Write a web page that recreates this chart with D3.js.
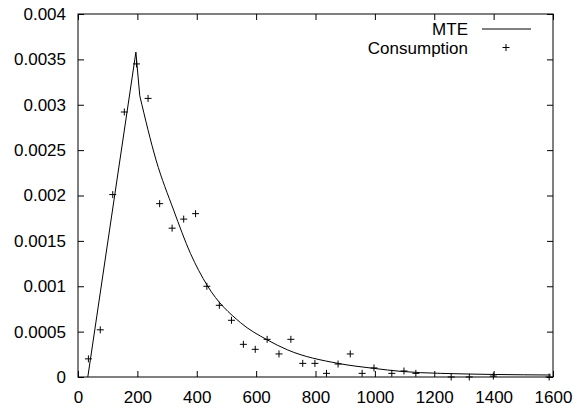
<!DOCTYPE html>
<html>
<head>
<meta charset="utf-8">
<script src="https://cdn.jsdelivr.net/npm/d3@7"></script>
<style>
  html, body { margin: 0; padding: 0; background: #fff; }
  svg { display: block; }
  text { font-family: "Liberation Sans", Arial, Helvetica, sans-serif; }
</style>
</head>
<body>
<svg id="chart" width="574" height="412"></svg>
<script>
// ---- data ----
const consumptionX = [35, 75, 117, 156, 197, 236, 275, 317, 356, 396, 434, 476, 517, 557, 597, 637, 677, 717, 757, 798, 837, 876, 917, 957, 997, 1057, 1098, 1138, 1257, 1318, 1399, 1587];
const consumptionY = [0.0002, 0.00052, 0.00201, 0.00292, 0.00345, 0.00307, 0.00191, 0.00164, 0.00174, 0.0018, 0.001, 0.00079, 0.000625, 0.00036, 0.000305, 0.000415, 0.000254, 0.000415, 0.00015, 0.00015, 0.00004, 0.000143, 0.000254, 0.00004, 0.0001, 0.00004, 0.000066, 0.00004, 0, 0, 0.00001, 0];

const mteX = [33, 195, 208, 263, 322, 379, 435, 547, 637, 705, 876, 997, 1087, 1222, 1593];
const mteY = [0, 0.00358, 0.0031, 0.00239, 0.00184, 0.00136, 0.00101, 0.0006, 0.00041, 0.0003, 0.00015, 0.000095, 0.000062, 0.00004, 0.000022];

const xTicks = [0, 200, 400, 600, 800, 1000, 1200, 1400, 1600];
const xTickLabels = ["0", "200", "400", "600", "800", "1000", "1200", "1400", "1600"];
const yTicks = [0, 0.0005, 0.001, 0.0015, 0.002, 0.0025, 0.003, 0.0035, 0.004];
const yTickLabels = ["0", "0.0005", "0.001", "0.0015", "0.002", "0.0025", "0.003", "0.0035", "0.004"];

const seriesNames = ["MTE", "Consumption"];

// ---- layout ----
const plotL = 78, plotR = 553, plotT = 14, plotB = 377;
const svg = d3.select("#chart");

const x = d3.scaleLinear().domain([0, 1600]).range([plotL, plotR]);
const y = d3.scaleLinear().domain([0, 0.004]).range([plotB, plotT]);

const fontSize = 17;

// axes
const gx = svg.append("g").attr("transform", `translate(0,${plotB})`)
  .call(d3.axisBottom(x).tickValues(xTicks).tickFormat((d, i) => xTickLabels[i])
    .tickSizeInner(-6).tickSizeOuter(0).tickPadding(14));
const gy = svg.append("g").attr("transform", `translate(${plotL},0)`)
  .call(d3.axisLeft(y).tickValues(yTicks).tickFormat((d, i) => yTickLabels[i])
    .tickSizeInner(-6).tickSizeOuter(0).tickPadding(12));
const gt = svg.append("g").attr("transform", `translate(0,${plotT})`)
  .call(d3.axisTop(x).tickValues(xTicks).tickFormat("")
    .tickSizeInner(-6).tickSizeOuter(0));
const gr = svg.append("g").attr("transform", `translate(${plotR},0)`)
  .call(d3.axisRight(y).tickValues(yTicks).tickFormat("")
    .tickSizeInner(-6).tickSizeOuter(0));

[gx, gy, gt, gr].forEach(g => {
  g.select(".domain").remove();
  g.selectAll(".tick line").attr("stroke", "#000").attr("stroke-width", 1);
  g.selectAll("text").attr("font-size", fontSize).attr("fill", "#000")
    .style("font-family", '"Liberation Sans", Arial, Helvetica, sans-serif');
});

// border
svg.append("rect")
  .attr("x", plotL).attr("y", plotT)
  .attr("width", plotR - plotL).attr("height", plotB - plotT)
  .attr("fill", "none").attr("stroke", "#000").attr("stroke-width", 1);

// MTE curve
const mte = mteX.map((v, i) => ({ x: v, y: mteY[i] }));
const peakIdx = mteY.indexOf(d3.max(mteY));
const lineLin = d3.line().x(d => x(d.x)).y(d => y(d.y));
const lineSmooth = d3.line().x(d => x(d.x)).y(d => y(d.y)).curve(d3.curveMonotoneX);

svg.append("path").datum(mte.slice(0, peakIdx + 2))
  .attr("d", lineLin).attr("fill", "none").attr("stroke", "#000").attr("stroke-width", 1);
svg.append("path").datum(mte.slice(peakIdx + 1))
  .attr("d", lineSmooth).attr("fill", "none").attr("stroke", "#000").attr("stroke-width", 1);

// Consumption points (plus markers)
const r = 3.5;
const pts = svg.append("g");
consumptionX.forEach((v, i) => {
  const cx = x(v), cy = y(consumptionY[i]);
  pts.append("path")
    .attr("d", `M${cx - r},${cy}H${cx + r}M${cx},${cy - r}V${cy + r}`)
    .attr("stroke", "#000").attr("stroke-width", 1).attr("fill", "none");
});

// legend
const legendX = 468;
svg.append("text").attr("x", legendX).attr("y", 34.5).attr("text-anchor", "end")
  .attr("font-size", fontSize).text(seriesNames[0]);
svg.append("line").attr("x1", 482).attr("x2", 531).attr("y1", 29).attr("y2", 29)
  .attr("stroke", "#000").attr("stroke-width", 1);
svg.append("text").attr("x", legendX).attr("y", 53.5).attr("text-anchor", "end")
  .attr("font-size", fontSize).text(seriesNames[1]);
svg.append("path")
  .attr("d", `M${506 - r},${47.5}H${506 + r}M${506},${47.5 - r}V${47.5 + r}`)
  .attr("stroke", "#000").attr("stroke-width", 1);
</script>
</body>
</html>
